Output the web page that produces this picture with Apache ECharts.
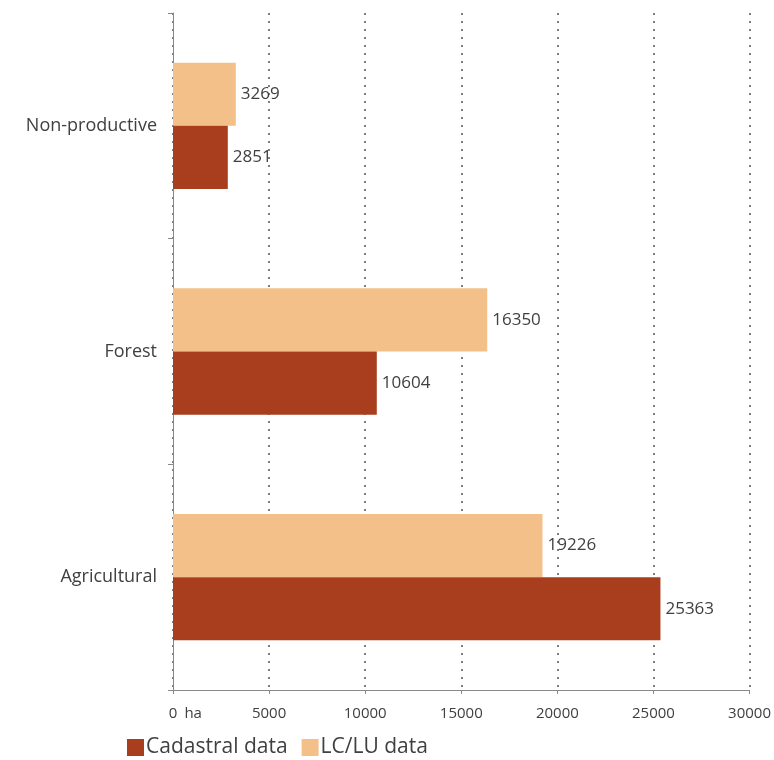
<!DOCTYPE html>
<html><head><meta charset="utf-8">
<script src="https://cdn.jsdelivr.net/npm/echarts@6/dist/echarts.min.js"></script>
<style>html,body{margin:0;padding:0;background:#fff}#c{width:774px;height:760px}</style>
</head><body><div id="c"></div>
<script>
const categories = ['Agricultural', 'Forest', 'Non-productive'];
const cadastral = [25363, 10604, 2851];
const lclu = [19226, 16350, 3269];
const seriesNames = ['Cadastral data', 'LC/LU data'];
const xTicks = [0, 5000, 10000, 15000, 20000, 25000, 30000];

const chart = echarts.init(document.getElementById('c'));
const font = '"Open Sans", "Noto Sans", sans-serif';
const label = {show: true, position: 'right', distance: 5, color: '#404040', fontSize: 17, fontFamily: font};
chart.setOption({
  animation: false,
  grid: {left: 173, right: 24, top: 13, bottom: 70, containLabel: false},
  legend: {
    data: seriesNames, left: 122, top: 732, itemWidth: 17, itemHeight: 17, itemGap: 14,
    icon: 'rect',
    textStyle: {fontSize: 21, color: '#404040', fontFamily: font, padding: [0, 0, 0, -3]}
  },
  xAxis: {
    type: 'value', min: xTicks[0], max: xTicks[xTicks.length - 1], interval: 5000,
    axisLine: {show: true, lineStyle: {color: '#888'}},
    axisTick: {show: true, length: 4, lineStyle: {color: '#888'}},
    splitLine: {show: true, lineStyle: {type: [2, 6], color: '#555', width: 1.5}},
    axisLabel: {
      margin: 16, color: '#404040', fontSize: 15, fontFamily: font,
      formatter: v => v === 0 ? '{p|}0{h|  ha}' : String(v),
      rich: {p: {width: 24}, h: {width: 24, fontSize: 15, fontFamily: font, color: '#404040'}}
    }
  },
  yAxis: {
    type: 'category', data: categories,
    axisLine: {show: true, lineStyle: {color: '#888'}},
    axisTick: {show: true, length: 5, lineStyle: {color: '#888'}},
    axisLabel: {margin: 16, color: '#404040', fontSize: 18, fontFamily: font}
  },
  series: [
    {name: seriesNames[1], type: 'bar', data: lclu, barCategoryGap: '44%', barGap: '0%',
     itemStyle: {color: '#F3C08A'}, label: label},
    {name: seriesNames[0], type: 'bar', data: cadastral, barCategoryGap: '44%', barGap: '0%',
     itemStyle: {color: '#A83E1E'}, label: label}
  ]
});
</script></body></html>
